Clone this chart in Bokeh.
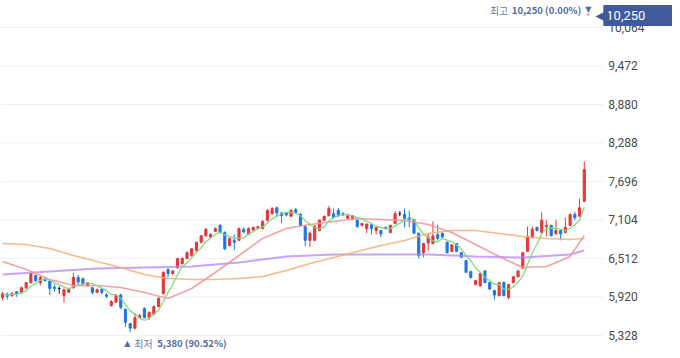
import numpy as np
import pandas as pd
from bokeh.plotting import figure
from bokeh.models import Range1d, Label, ColumnDataSource
from bokeh.core.properties import value
from bokeh.embed import file_html
from bokeh.resources import INLINE

# ---- daily candles (KRW) ----
opens = [5910, 5960, 5940, 6000, 5990, 6060, 6140, 6250, 6140, 6200,
         6160, 6070, 6050, 5940, 5990, 6060, 6220, 6200, 6090, 6060,
         5990, 6040, 5950, 5790, 5840, 5950, 5730, 5510, 5440, 5600,
         5740, 5600, 5650, 5770, 5970, 6340, 6280, 6370, 6430, 6510,
         6560, 6630, 6760, 6860, 6840, 6930, 7020, 6910, 6710, 6790,
         6790, 6960, 6880, 6950, 6980, 6970, 7100, 7200, 7290, 7210,
         7210, 7160, 7260, 7190, 7000, 6790, 6790, 6940, 7100, 7170,
         7200, 7250, 7200, 7130, 7120, 7100, 7020, 6970, 7030, 6940,
         6940, 6990, 6910, 7050, 7200, 7190, 7140, 7110, 6900, 6600,
         6750, 6740, 6880, 6900, 6760, 6620, 6740, 6600, 6480, 6310,
         6110, 6090, 6320, 6140, 6020, 5940, 6140, 5910, 6140, 6230,
         6360, 6620, 6830, 6990, 6910, 7000, 7020, 6890, 6940, 6910,
         7020, 7190, 7160, 7390]
highs = [6000, 5990, 6000, 6010, 6080, 6150, 6290, 6260, 6240, 6230,
         6180, 6110, 6080, 6050, 6060, 6290, 6260, 6220, 6150, 6080,
         6050, 6050, 5980, 5870, 5960, 5970, 5740, 5520, 5670, 5660,
         5760, 5700, 5790, 5910, 6310, 6360, 6330, 6520, 6530, 6620,
         6670, 6770, 6870, 6980, 6900, 6990, 7040, 6930, 6830, 6880,
         6990, 6990, 6990, 7000, 7010, 7100, 7270, 7300, 7310, 7230,
         7220, 7270, 7290, 7210, 7020, 6930, 7030, 7110, 7170, 7320,
         7280, 7290, 7220, 7190, 7180, 7110, 7060, 7050, 7050, 7000,
         6950, 7000, 7030, 7240, 7240, 7280, 7250, 7120, 6910, 6750,
         6900, 7080, 7030, 6910, 6770, 6730, 6750, 6610, 6490, 6320,
         6180, 6290, 6330, 6150, 6030, 6150, 6160, 6120, 6240, 6330,
         6610, 7000, 7000, 7000, 7220, 7100, 7030, 7100, 6950, 7140,
         7200, 7230, 7430, 8000]
lows = [5870, 5880, 5920, 5920, 5970, 6040, 6120, 6150, 6100, 6160,
        5950, 6000, 5970, 5830, 5980, 6050, 6100, 6080, 6080, 5960,
        5980, 5960, 5900, 5770, 5830, 5730, 5460, 5380, 5420, 5580,
        5590, 5570, 5640, 5760, 5960, 6220, 6260, 6350, 6420, 6500,
        6540, 6620, 6740, 6850, 6820, 6920, 6900, 6640, 6700, 6640,
        6780, 6900, 6870, 6930, 6960, 6960, 7080, 7190, 7150, 7060,
        7160, 7150, 7200, 7010, 6700, 6690, 6780, 6930, 7090, 7160,
        7130, 7150, 7170, 7120, 7100, 6990, 7000, 6900, 6880, 6880,
        6840, 6960, 6900, 7040, 7160, 6990, 6990, 6890, 6510, 6530,
        6630, 6730, 6790, 6830, 6590, 6610, 6610, 6520, 6290, 6200,
        6100, 6080, 6130, 6030, 5880, 5930, 5930, 5880, 6130, 6220,
        6350, 6610, 6820, 6930, 6900, 6850, 6850, 6880, 6790, 6900,
        7010, 7100, 7150, 7380]
closes = [5970, 5930, 5970, 5970, 6060, 6140, 6280, 6170, 6220, 6170,
          6050, 6050, 6050, 6030, 6040, 6220, 6150, 6130, 6140, 5990,
          6030, 5990, 5930, 5850, 5950, 5760, 5530, 5440, 5600, 5630,
          5600, 5680, 5770, 5900, 6300, 6280, 6320, 6510, 6510, 6600,
          6660, 6760, 6860, 6960, 6880, 6970, 6910, 6660, 6820, 6760,
          6970, 6920, 6970, 6990, 7000, 7080, 7250, 7280, 7210, 7170,
          7180, 7250, 7220, 7020, 6790, 6900, 7010, 7100, 7160, 7280,
          7140, 7170, 7180, 7170, 7170, 7000, 7050, 7040, 6970, 6990,
          6890, 6970, 7020, 7200, 7200, 7130, 7110, 6900, 6560, 6740,
          6840, 6860, 6820, 6840, 6600, 6720, 6620, 6530, 6300, 6220,
          6170, 6280, 6140, 6040, 5950, 6140, 5940, 6110, 6230, 6320,
          6600, 6850, 6960, 6940, 7100, 7020, 6860, 6940, 6890, 6990,
          7190, 7140, 7290, 7880]

# ---- moving averages ----
ma20_idx = [0, 5, 10, 15, 20, 25, 30, 35, 40, 45, 50, 55, 60, 65, 70, 75,
            80, 85, 90, 95, 100, 105, 110, 115, 120, 123]
ma20 = [6465, 6342, 6188, 6096, 6096, 6065, 5988, 5896, 6050, 6296, 6557,
        6819, 6972, 7034, 7080, 7126, 7111, 7095, 7034, 6911, 6726, 6542,
        6373, 6388, 6542, 6865]
ma60_idx = ma20_idx
ma60 = [6742, 6726, 6665, 6557, 6465, 6373, 6265, 6203, 6188, 6188, 6203,
        6234, 6326, 6434, 6526, 6619, 6711, 6788, 6895, 6942, 6942, 6895,
        6849, 6819, 6803, 6819]
ma120_idx = [0, 10, 20, 30, 40, 50, 60, 70, 80, 90, 100, 110, 120, 123]
ma120 = [6265, 6311, 6357, 6373, 6388, 6449, 6542, 6573, 6573, 6573, 6542,
         6526, 6573, 6634]

y_ticks = [5328, 5920, 6512, 7104, 7696, 8288, 8880, 9472, 10064]
y_tick_labels = ["5,328", "5,920", "6,512", "7,104", "7,696", "8,288",
                 "8,880", "9,472", "10,064"]
high_price = 10250
high_text = "10,250 (0.00%)"
low_price = 5380
low_text = "5,380 (90.52%)"
last_text = "10,250"

n = len(closes)
idx = list(range(n))
last = n - 1
imin = int(np.argmin(lows))
ma5 = pd.Series(closes).rolling(5, min_periods=1).mean().tolist()

RED = "#e5363b"
BLUE = "#1b78e6"
colors = [RED if c > o else (BLUE if c < o else "#111111") for o, c in zip(opens, closes)]
src = ColumnDataSource(dict(
    x=idx, top=[max(o, c) for o, c in zip(opens, closes)],
    bottom=[min(o, c) for o, c in zip(opens, closes)],
    high=highs, low=lows, color=colors))

x0 = -0.423
p = figure(width=672, height=350, output_backend="svg", toolbar_location=None,
           x_range=Range1d(x0, x0 + 672 / 4.73), y_range=Range1d(5096, 10479),
           y_axis_location=None, x_axis_location=None,
           min_border_left=0, min_border_top=0, min_border_bottom=0,
           min_border_right=0)
p.outline_line_color = None
p.background_fill_color = "white"
p.xgrid.visible = False
p.ygrid.visible = False

# horizontal grid lines at the price ticks (they stop before the price scale)
p.segment(x0=[x0] * len(y_ticks), y0=y_ticks, x1=[last + 4] * len(y_ticks), y1=y_ticks,
          line_color="#eef0f4", line_width=1)
# price scale labels on the right
p.text(x=[last] * len(y_ticks), y=y_ticks, text=y_tick_labels, x_offset=24,
       text_font=value("Roboto"), text_font_size="12px", text_color="#4a4a4a",
       text_align="left", text_baseline="middle")

# candles
p.segment(x0="x", y0="low", x1="x", y1="high", color="color", line_width=1, source=src)
p.vbar(x="x", width=0.45, top="top", bottom="bottom", fill_color="color",
       line_color="color", line_width=1, source=src)

# moving averages
p.line(ma120_idx, ma120, color="#b485f2", line_width=2, alpha=0.75)
p.line(ma60_idx, ma60, color="#f7ad72", line_width=1.6, alpha=0.85)
p.line(ma20_idx, ma20, color="#f59090", line_width=1.6, alpha=0.85)
p.line(idx, ma5, color="#7ed87a", line_width=1.4, alpha=0.9)

SLATE = "#5568a3"
KFONT = "Noto Sans CJK KR"

# top: highest marker
p.add_layout(Label(x=last, y=high_price, x_offset=4, y_offset=6, text="▼",
                   text_font="DejaVu Sans", text_font_size="8px", text_color=SLATE,
                   text_align="center", text_baseline="middle"))
p.add_layout(Label(x=last, y=high_price, x_offset=4, y_offset=0, text="•",
                   text_font="DejaVu Sans", text_font_size="7px", text_color="#f07070",
                   text_align="center", text_baseline="middle"))
p.add_layout(Label(x=last, y=high_price, x_offset=-3, y_offset=5, text=high_text,
                   text_font=KFONT, text_font_size="9.5px", text_font_style="bold",
                   text_color=SLATE, text_align="right", text_baseline="middle"))
p.add_layout(Label(x=last, y=high_price, x_offset=-76, y_offset=5, text="최고",
                   text_font=KFONT, text_font_size="10px",
                   text_color="#6b7cb0", text_align="right", text_baseline="middle"))

# bottom: lowest marker
p.add_layout(Label(x=imin, y=low_price, x_offset=-3, y_offset=-11, text="▲",
                   text_font="DejaVu Sans", text_font_size="8px", text_color=SLATE,
                   text_align="center", text_baseline="middle"))
p.add_layout(Label(x=imin, y=low_price, x_offset=4, y_offset=-11, text="최저",
                   text_font=KFONT, text_font_size="10px",
                   text_color="#6b7cb0", text_align="left", text_baseline="middle"))
p.add_layout(Label(x=imin, y=low_price, x_offset=27, y_offset=-11, text=low_text,
                   text_font=KFONT, text_font_size="9.5px", text_font_style="bold",
                   text_color=SLATE, text_align="left", text_baseline="middle"))

# current price tag on the price scale
TAG = "#3f5b9b"
p.add_layout(Label(x=last, y=high_price, x_offset=19, y_offset=0,
                   text=last_text + "                    ",
                   text_font="Roboto", text_font_size="13px", text_color="white",
                   background_fill_color=TAG, padding=3,
                   text_align="left", text_baseline="middle"))
p.add_layout(Label(x=last, y=high_price, x_offset=11, y_offset=0, text="◀",
                   text_font="DejaVu Sans", text_font_size="17px", text_color=TAG,
                   text_align="left", text_baseline="middle"))

open("out.html", "w").write(file_html(p, INLINE))
